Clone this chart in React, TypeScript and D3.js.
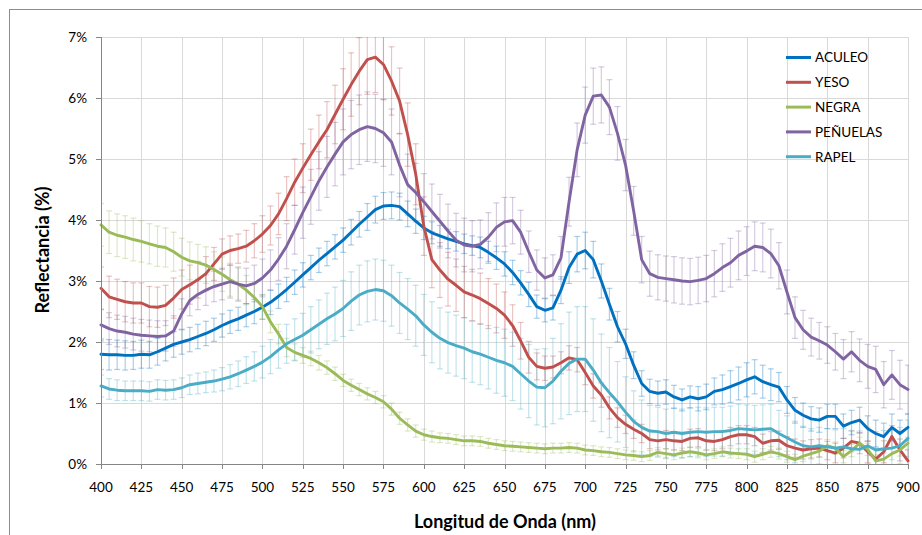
import React from "react";
import * as d3 from "d3";

// Wavelength grid (nm) of the measured spectra
const WAVELENGTHS: number[] = d3.range(400, 901, 5);
const X_TICKS: number[] = d3.range(400, 901, 25);
const Y_TICKS: number[] = [0, 1, 2, 3, 4, 5, 6, 7];

// Mean reflectance (%) per lake, 400–900 nm every 5 nm
const ACULEO = [
  1.80, 1.79, 1.79, 1.78, 1.78, 1.80, 1.79, 1.84, 1.90, 1.96,
  2.00, 2.04, 2.09, 2.14, 2.20, 2.27, 2.33, 2.38, 2.44, 2.50,
  2.57, 2.65, 2.75, 2.86, 2.98, 3.10, 3.22, 3.34, 3.45, 3.56,
  3.67, 3.80, 3.93, 4.05, 4.17, 4.23, 4.24, 4.22, 4.10, 3.98,
  3.87, 3.79, 3.74, 3.69, 3.65, 3.61, 3.58, 3.55, 3.47, 3.38,
  3.28, 3.14, 2.97, 2.78, 2.58, 2.52, 2.56, 2.85, 3.22, 3.44,
  3.50, 3.35, 3.00, 2.62, 2.25, 1.97, 1.62, 1.32, 1.19, 1.16,
  1.18, 1.10, 1.05, 1.10, 1.07, 1.10, 1.19, 1.22, 1.27, 1.32,
  1.38, 1.43, 1.35, 1.30, 1.26, 1.05, 0.88, 0.80, 0.74, 0.72,
  0.78, 0.78, 0.62, 0.68, 0.72, 0.58, 0.50, 0.45, 0.60, 0.50,
  0.60,
];
const YESO = [
  2.88, 2.74, 2.70, 2.66, 2.64, 2.64, 2.58, 2.57, 2.60, 2.72,
  2.86, 2.94, 3.02, 3.12, 3.28, 3.44, 3.50, 3.53, 3.57, 3.66,
  3.77, 3.91, 4.10, 4.35, 4.62, 4.85, 5.07, 5.28, 5.48, 5.73,
  5.98, 6.22, 6.44, 6.63, 6.67, 6.55, 6.28, 5.95, 5.40, 4.75,
  3.90, 3.35, 3.18, 3.03, 2.93, 2.82, 2.77, 2.71, 2.63, 2.55,
  2.44, 2.27, 2.02, 1.75, 1.60, 1.57, 1.59, 1.66, 1.74, 1.71,
  1.50, 1.28, 1.13, 0.92, 0.76, 0.65, 0.57, 0.50, 0.40, 0.38,
  0.40, 0.38, 0.37, 0.42, 0.43, 0.38, 0.37, 0.40, 0.45, 0.48,
  0.48, 0.45, 0.34, 0.38, 0.39, 0.30, 0.26, 0.23, 0.25, 0.26,
  0.22, 0.18, 0.26, 0.37, 0.34, 0.20, 0.08, 0.20, 0.45, 0.23,
  0.05,
];
const NEGRA = [
  3.92, 3.80, 3.75, 3.72, 3.68, 3.65, 3.61, 3.57, 3.55, 3.48,
  3.39, 3.33, 3.30, 3.26, 3.19, 3.11, 3.02, 2.95, 2.85, 2.73,
  2.58, 2.33, 2.13, 1.91, 1.83, 1.78, 1.73, 1.66, 1.58, 1.48,
  1.37, 1.29, 1.22, 1.15, 1.09, 1.02, 0.90, 0.75, 0.64, 0.54,
  0.48, 0.45, 0.43, 0.42, 0.40, 0.38, 0.38, 0.37, 0.34, 0.32,
  0.30, 0.29, 0.28, 0.27, 0.26, 0.25, 0.26, 0.26, 0.27, 0.26,
  0.23, 0.22, 0.20, 0.19, 0.17, 0.15, 0.14, 0.12, 0.14, 0.19,
  0.17, 0.15, 0.18, 0.20, 0.18, 0.15, 0.17, 0.20, 0.18, 0.17,
  0.16, 0.12, 0.16, 0.20, 0.17, 0.12, 0.07, 0.13, 0.17, 0.21,
  0.30, 0.26, 0.12, 0.22, 0.34, 0.24, 0.05, 0.08, 0.17, 0.23,
  0.34,
];
const PENUELAS = [
  2.28, 2.22, 2.18, 2.16, 2.13, 2.11, 2.10, 2.09, 2.10, 2.18,
  2.46, 2.68, 2.78, 2.85, 2.91, 2.95, 2.99, 2.95, 2.92, 2.96,
  3.05, 3.18, 3.36, 3.57, 3.84, 4.12, 4.38, 4.64, 4.87, 5.08,
  5.28, 5.40, 5.48, 5.53, 5.50, 5.43, 5.28, 4.90, 4.58, 4.45,
  4.30, 4.14, 3.98, 3.82, 3.67, 3.59, 3.57, 3.60, 3.72, 3.88,
  3.97, 3.99, 3.80, 3.48, 3.18, 3.05, 3.10, 3.38, 4.30, 5.15,
  5.72, 6.03, 6.05, 5.85, 5.42, 4.90, 4.15, 3.35, 3.12, 3.06,
  3.04, 3.02, 3.00, 2.99, 3.01, 3.04, 3.12, 3.22, 3.30, 3.42,
  3.49, 3.57, 3.55, 3.45, 3.25, 2.82, 2.40, 2.20, 2.08, 2.02,
  1.95, 1.84, 1.72, 1.84, 1.70, 1.60, 1.55, 1.30, 1.46, 1.30,
  1.22,
];
const RAPEL = [
  1.28, 1.23, 1.21, 1.20, 1.20, 1.20, 1.19, 1.22, 1.21, 1.22,
  1.25, 1.30, 1.32, 1.34, 1.36, 1.39, 1.43, 1.48, 1.54, 1.60,
  1.67, 1.76, 1.87, 1.97, 2.04, 2.11, 2.20, 2.29, 2.38, 2.46,
  2.55, 2.67, 2.77, 2.83, 2.86, 2.84, 2.76, 2.64, 2.54, 2.43,
  2.28, 2.16, 2.06, 1.99, 1.94, 1.90, 1.84, 1.80, 1.75, 1.70,
  1.66, 1.60, 1.48, 1.36, 1.26, 1.25, 1.36, 1.52, 1.65, 1.72,
  1.72, 1.54, 1.33, 1.17, 1.02, 0.85, 0.70, 0.60, 0.54, 0.53,
  0.50, 0.52, 0.50, 0.52, 0.53, 0.52, 0.53, 0.53, 0.55, 0.58,
  0.57, 0.56, 0.57, 0.58, 0.50, 0.43, 0.36, 0.30, 0.28, 0.30,
  0.28, 0.26, 0.28, 0.25, 0.24, 0.30, 0.23, 0.25, 0.26, 0.30,
  0.42,
];

// Standard deviation (%) per lake, same wavelength grid
const ACULEO_ERR = [
  0.25, 0.25, 0.24, 0.24, 0.23, 0.23, 0.22, 0.22, 0.21, 0.21,
  0.20, 0.20, 0.20, 0.20, 0.19, 0.19, 0.19, 0.19, 0.19, 0.20,
  0.20, 0.20, 0.20, 0.20, 0.20, 0.20, 0.20, 0.20, 0.20, 0.20,
  0.20, 0.21, 0.21, 0.22, 0.22, 0.22, 0.22, 0.22, 0.21, 0.20,
  0.19, 0.18, 0.17, 0.16, 0.16, 0.16, 0.16, 0.17, 0.18, 0.19,
  0.20, 0.20, 0.20, 0.20, 0.19, 0.19, 0.20, 0.22, 0.26, 0.29,
  0.30, 0.30, 0.28, 0.26, 0.25, 0.24, 0.22, 0.21, 0.20, 0.20,
  0.20, 0.19, 0.18, 0.18, 0.20, 0.21, 0.22, 0.24, 0.26, 0.27,
  0.28, 0.28, 0.27, 0.26, 0.24, 0.22, 0.21, 0.20, 0.20, 0.20,
  0.20, 0.20, 0.20, 0.20, 0.21, 0.21, 0.22, 0.22, 0.22, 0.22,
  0.22,
];
const YESO_ERR = [
  0.35, 0.34, 0.33, 0.33, 0.33, 0.33, 0.33, 0.33, 0.33, 0.33,
  0.32, 0.32, 0.30, 0.28, 0.27, 0.25, 0.24, 0.24, 0.26, 0.28,
  0.30, 0.32, 0.34, 0.36, 0.38, 0.40, 0.42, 0.44, 0.46, 0.48,
  0.50, 0.52, 0.55, 0.57, 0.58, 0.58, 0.56, 0.54, 0.52, 0.50,
  0.48, 0.46, 0.45, 0.44, 0.43, 0.42, 0.42, 0.42, 0.41, 0.40,
  0.38, 0.34, 0.30, 0.26, 0.22, 0.20, 0.18, 0.18, 0.20, 0.20,
  0.20, 0.20, 0.20, 0.18, 0.16, 0.15, 0.15, 0.15, 0.15, 0.15,
  0.15, 0.15, 0.15, 0.15, 0.15, 0.15, 0.15, 0.15, 0.15, 0.15,
  0.15, 0.15, 0.15, 0.15, 0.15, 0.15, 0.15, 0.15, 0.15, 0.15,
  0.15, 0.16, 0.16, 0.17, 0.17, 0.18, 0.18, 0.18, 0.18, 0.18,
  0.18,
];
const NEGRA_ERR = [
  0.35, 0.35, 0.35, 0.35, 0.35, 0.34, 0.33, 0.33, 0.32, 0.32,
  0.31, 0.31, 0.30, 0.30, 0.29, 0.28, 0.27, 0.26, 0.24, 0.22,
  0.20, 0.18, 0.16, 0.15, 0.14, 0.13, 0.12, 0.12, 0.11, 0.11,
  0.10, 0.10, 0.10, 0.10, 0.10, 0.10, 0.10, 0.10, 0.10, 0.10,
  0.09, 0.09, 0.08, 0.08, 0.08, 0.08, 0.08, 0.08, 0.08, 0.08,
  0.08, 0.08, 0.08, 0.08, 0.08, 0.08, 0.08, 0.08, 0.08, 0.08,
  0.08, 0.08, 0.08, 0.08, 0.08, 0.08, 0.08, 0.08, 0.08, 0.08,
  0.08, 0.08, 0.08, 0.08, 0.08, 0.08, 0.08, 0.08, 0.08, 0.08,
  0.09, 0.09, 0.09, 0.09, 0.09, 0.09, 0.09, 0.09, 0.09, 0.09,
  0.10, 0.10, 0.10, 0.10, 0.10, 0.10, 0.10, 0.10, 0.10, 0.10,
  0.10,
];
const PENUELAS_ERR = [
  0.26, 0.26, 0.26, 0.26, 0.26, 0.26, 0.26, 0.26, 0.25, 0.25,
  0.25, 0.25, 0.25, 0.25, 0.25, 0.26, 0.27, 0.28, 0.29, 0.30,
  0.31, 0.33, 0.35, 0.37, 0.40, 0.42, 0.45, 0.48, 0.50, 0.52,
  0.54, 0.56, 0.57, 0.57, 0.56, 0.55, 0.54, 0.52, 0.50, 0.48,
  0.46, 0.45, 0.44, 0.44, 0.44, 0.44, 0.42, 0.40, 0.40, 0.40,
  0.40, 0.38, 0.36, 0.34, 0.33, 0.33, 0.33, 0.35, 0.40, 0.44,
  0.46, 0.46, 0.46, 0.45, 0.44, 0.42, 0.40, 0.38, 0.37, 0.37,
  0.37, 0.38, 0.38, 0.38, 0.38, 0.38, 0.38, 0.39, 0.40, 0.40,
  0.40, 0.40, 0.40, 0.40, 0.38, 0.36, 0.34, 0.32, 0.31, 0.30,
  0.30, 0.30, 0.32, 0.33, 0.35, 0.36, 0.38, 0.38, 0.40, 0.40,
  0.40,
];
const RAPEL_ERR = [
  0.18, 0.17, 0.17, 0.16, 0.16, 0.16, 0.16, 0.16, 0.16, 0.16,
  0.16, 0.16, 0.17, 0.17, 0.18, 0.19, 0.20, 0.21, 0.22, 0.24,
  0.26, 0.28, 0.30, 0.32, 0.34, 0.36, 0.38, 0.40, 0.42, 0.44,
  0.46, 0.48, 0.49, 0.50, 0.50, 0.50, 0.50, 0.50, 0.50, 0.50,
  0.50, 0.50, 0.50, 0.50, 0.50, 0.50, 0.50, 0.50, 0.52, 0.54,
  0.55, 0.56, 0.58, 0.60, 0.62, 0.64, 0.70, 0.78, 0.84, 0.86,
  0.86, 0.84, 0.80, 0.74, 0.66, 0.58, 0.50, 0.45, 0.42, 0.40,
  0.40, 0.40, 0.40, 0.40, 0.40, 0.40, 0.40, 0.40, 0.40, 0.40,
  0.40, 0.40, 0.40, 0.40, 0.38, 0.36, 0.34, 0.32, 0.30, 0.30,
  0.30, 0.30, 0.30, 0.30, 0.30, 0.30, 0.30, 0.30, 0.30, 0.30,
  0.30,
];

const SERIES_NAMES = ["ACULEO", "YESO", "NEGRA", "PEÑUELAS", "RAPEL"];
const SERIES_COLORS = ["#0070C0", "#C0504D", "#9BBB59", "#8064A2", "#4BACC6"];
const SERIES_VALUES = [ACULEO, YESO, NEGRA, PENUELAS, RAPEL];
const SERIES_ERRORS = [ACULEO_ERR, YESO_ERR, NEGRA_ERR, PENUELAS_ERR, RAPEL_ERR];

const WIDTH = 922;
const HEIGHT = 535;
const PLOT = { left: 101, right: 908, top: 37, bottom: 464 };
const FONT = "Lato, 'Open Sans', sans-serif";

export default function App() {
  const x = d3.scaleLinear().domain([400, 900]).range([PLOT.left, PLOT.right]);
  const y = d3.scaleLinear().domain([0, 7]).range([PLOT.bottom, PLOT.top]);

  const line = d3
    .line<number>()
    .x((_, i) => x(WAVELENGTHS[i]))
    .y((d) => y(d))
    .curve(d3.curveLinear);

  const capHalf = 3;

  return (
    <svg
      width={WIDTH}
      height={HEIGHT}
      style={{ position: "absolute", left: 0, top: 0, fontFamily: FONT }}
    >
      <defs>
        <clipPath id="plot-clip">
          <rect
            x={PLOT.left}
            y={PLOT.top}
            width={PLOT.right - PLOT.left + 1}
            height={PLOT.bottom - PLOT.top}
          />
        </clipPath>
      </defs>
      <rect x={0} y={0} width={WIDTH} height={HEIGHT} fill="#ffffff" />
      {/* chart frame */}
      <rect
        x={9.5}
        y={9.5}
        width={WIDTH + 20}
        height={HEIGHT + 20}
        fill="none"
        stroke="#8c8c8c"
        strokeWidth={1}
      />

      {/* gridlines */}
      <g stroke="#d9d9d9" strokeWidth={1}>
        {Y_TICKS.filter((t) => t > 0).map((t) => (
          <line
            key={`gy${t}`}
            x1={PLOT.left}
            x2={PLOT.right}
            y1={Math.round(y(t)) + 0.5}
            y2={Math.round(y(t)) + 0.5}
          />
        ))}
        {X_TICKS.filter((t) => t > 400).map((t) => (
          <line
            key={`gx${t}`}
            x1={Math.round(x(t)) + 0.5}
            x2={Math.round(x(t)) + 0.5}
            y1={PLOT.top}
            y2={PLOT.bottom}
          />
        ))}
      </g>

      {/* error bars (± one standard deviation) */}
      <g clipPath="url(#plot-clip)">
        {SERIES_VALUES.map((vals, s) => (
          <g
            key={`err${s}`}
            stroke={SERIES_COLORS[s]}
            strokeOpacity={0.33}
            strokeWidth={1.2}
          >
            {vals.map((v, i) => {
              const e = SERIES_ERRORS[s][i];
              const cx = x(WAVELENGTHS[i]);
              const y1 = y(v + e);
              const y2 = y(v - e);
              return (
                <g key={i}>
                  <line x1={cx} x2={cx} y1={y1} y2={y2} />
                  <line x1={cx - capHalf} x2={cx + capHalf} y1={y1} y2={y1} />
                  <line x1={cx - capHalf} x2={cx + capHalf} y1={y2} y2={y2} />
                </g>
              );
            })}
          </g>
        ))}
      </g>

      {/* series lines */}
      <g fill="none" strokeWidth={2.9} strokeLinejoin="round" strokeLinecap="round">
        {SERIES_VALUES.map((vals, s) => (
          <path key={`ln${s}`} d={line(vals) || ""} stroke={SERIES_COLORS[s]} />
        ))}
      </g>

      {/* axes */}
      <g stroke="#868686" strokeWidth={1}>
        <line x1={PLOT.left + 0.5} x2={PLOT.left + 0.5} y1={PLOT.top} y2={PLOT.bottom + 0.5} />
        <line x1={PLOT.left} x2={PLOT.right + 1} y1={PLOT.bottom + 0.5} y2={PLOT.bottom + 0.5} />
        {Y_TICKS.map((t) => (
          <line
            key={`ty${t}`}
            x1={PLOT.left - 5}
            x2={PLOT.left}
            y1={Math.round(y(t)) + 0.5}
            y2={Math.round(y(t)) + 0.5}
          />
        ))}
        {X_TICKS.map((t) => (
          <line
            key={`tx${t}`}
            x1={Math.round(x(t)) + 0.5}
            x2={Math.round(x(t)) + 0.5}
            y1={PLOT.bottom}
            y2={PLOT.bottom + 5}
          />
        ))}
      </g>

      {/* tick labels */}
      <g fontSize={13.5} fill="#000">
        {Y_TICKS.map((t) => (
          <text key={`ly${t}`} x={87} y={y(t)} dy="0.36em" textAnchor="end">
            {`${t}%`}
          </text>
        ))}
        {X_TICKS.map((t) => (
          <text key={`lx${t}`} x={x(t)} y={492} textAnchor="middle">
            {t}
          </text>
        ))}
      </g>

      {/* axis titles */}
      <text
        x={505}
        y={528}
        textAnchor="middle"
        fontSize={18}
        fontWeight="bold"
        fill="#000"
      >
        Longitud de Onda (nm)
      </text>
      <text
        transform={`translate(49, 250) rotate(-90)`}
        textAnchor="middle"
        fontSize={18}
        fontWeight="bold"
        fill="#000"
      >
        Reflectancia (%)
      </text>

      {/* legend */}
      <g>
        {SERIES_NAMES.map((name, i) => {
          const ly = 57.5 + i * 24.8;
          return (
            <g key={name}>
              <line
                x1={786}
                x2={811}
                y1={ly}
                y2={ly}
                stroke={SERIES_COLORS[i]}
                strokeWidth={3}
              />
              <text x={815} y={ly} dy="0.36em" fontSize={13.5} fill="#000">
                {name}
              </text>
            </g>
          );
        })}
      </g>
    </svg>
  );
}
